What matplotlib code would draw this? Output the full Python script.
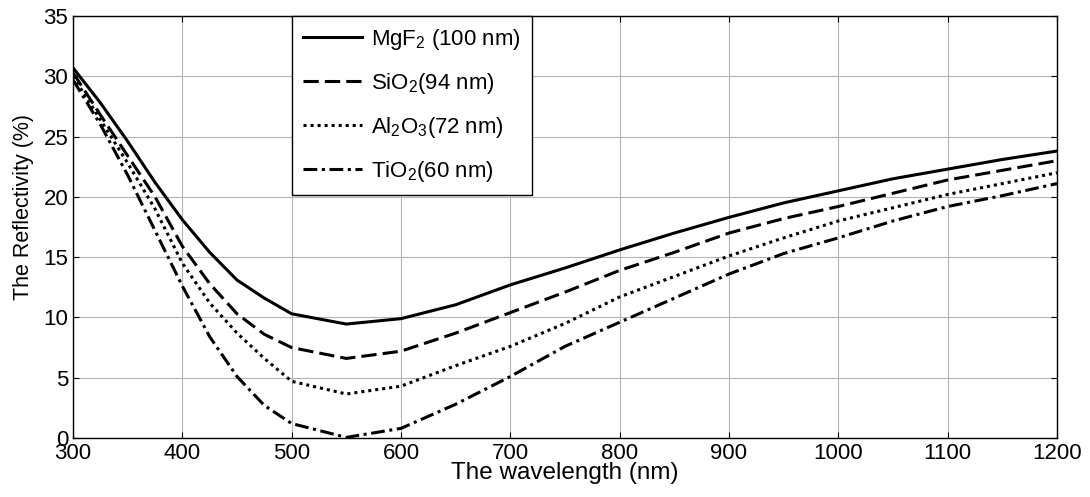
import matplotlib
matplotlib.use("Agg")
import matplotlib.pyplot as plt

plt.rcParams['font.family'] = ['Liberation Sans', 'DejaVu Sans']
plt.rcParams['mathtext.default'] = 'regular'

wavelength = [300, 325, 350, 375, 400, 425, 450, 475, 500, 550, 600, 650, 700,
              750, 800, 850, 900, 950, 1000, 1050, 1100, 1150, 1200]
mgf2 = [30.7, 27.8, 24.6, 21.2, 18.1, 15.4, 13.1, 11.6, 10.3, 9.45, 9.9, 11.05, 12.7,
        14.1, 15.6, 17.0, 18.3, 19.5, 20.5, 21.5, 22.3, 23.1, 23.8]
sio2 = [30.3, 26.8, 23.4, 20.0, 15.9, 12.8, 10.3, 8.6, 7.5, 6.6, 7.2, 8.7, 10.4,
        12.1, 13.9, 15.4, 17.0, 18.2, 19.2, 20.3, 21.4, 22.2, 23.0]
al2o3 = [30.0, 26.4, 22.8, 19.0, 14.5, 11.2, 8.7, 6.6, 4.7, 3.65, 4.3, 6.0, 7.6,
         9.5, 11.7, 13.4, 15.1, 16.6, 18.0, 19.1, 20.2, 21.1, 22.0]
tio2 = [29.7, 26.0, 21.8, 17.2, 12.6, 8.4, 5.1, 2.7, 1.2, 0.05, 0.8, 2.8, 5.1,
        7.6, 9.6, 11.6, 13.6, 15.3, 16.6, 18.0, 19.2, 20.1, 21.1]
labels = ['MgF$_2$ (100 nm)', 'SiO$_2$(94 nm)', 'Al$_2$O$_3$(72 nm)', 'TiO$_2$(60 nm)']
x_ticks = [300, 400, 500, 600, 700, 800, 900, 1000, 1100, 1200]
y_ticks = [0, 5, 10, 15, 20, 25, 30, 35]

fig = plt.figure(figsize=(10.9, 4.97), dpi=100)
ax = fig.add_axes([0.067, 0.1187, 0.9027, 0.8491])

lw = 2.2
ax.plot(wavelength, mgf2, color='black', lw=lw, linestyle='-', label=labels[0])
ax.plot(wavelength, sio2, color='black', lw=lw, linestyle=(0, (5, 2)), label=labels[1])
ax.plot(wavelength, al2o3, color='black', lw=lw, linestyle=(0, (1, 1.3)), label=labels[2])
ax.plot(wavelength, tio2, color='black', lw=lw, linestyle=(0, (4.5, 1.5, 1, 1.5)), label=labels[3])

ax.set_xlim(300, 1200)
ax.set_ylim(0, 35)
ax.set_xticks(x_ticks)
ax.set_yticks(y_ticks)
ax.tick_params(direction='in', top=True, right=True, labelsize=16, length=4, width=0.8)
ax.grid(True, color='#b4b4b4', linewidth=0.8)
ax.set_axisbelow(True)
for s in ax.spines.values():
    s.set_linewidth(1.0)

ax.set_xlabel('The wavelength (nm)', fontsize=17.5, labelpad=-1)
ax.set_ylabel('The Reflectivity (%)', fontsize=15.5)
ax.yaxis.set_label_coords(-0.040, 0.547)

leg = ax.legend(loc='upper left', bbox_to_anchor=(0.2226, 1.0), borderaxespad=0,
                fontsize=16, frameon=True, fancybox=False, handlelength=2.65,
                handletextpad=0.4, labelspacing=0.85, borderpad=0.5)
leg.get_frame().set_edgecolor('black')
leg.get_frame().set_linewidth(1.0)
leg.get_frame().set_alpha(1)

fig.savefig('out.png', dpi=100)
